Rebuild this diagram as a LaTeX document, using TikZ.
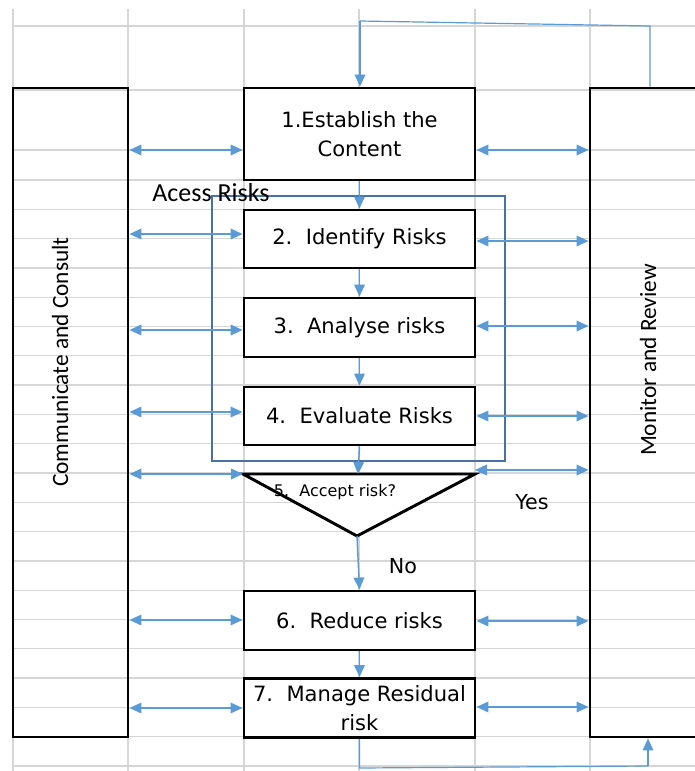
\documentclass[tikz,border=0pt]{standalone}
\usepackage{fontspec}
\setmainfont{DejaVu Sans}
\newfontfamily\calfont{Carlito}
\usetikzlibrary{arrows.meta}
\definecolor{linkblue}{RGB}{91,155,213}
\definecolor{frameblue}{RGB}{72,114,164}
\definecolor{gridgray}{RGB}{214,214,214}
\tikzset{
  gridline/.style={gridgray, line width=1pt},
  stepbox/.style={draw=black, fill=white, line width=2.2pt, minimum width=173.25pt,
    inner sep=0pt, align=center, font=\fontsize{15.8}{22}\selectfont},
  sidebox/.style={draw=black, line width=2.2pt, minimum width=86.25pt,
    minimum height=486.75pt, inner sep=0pt},
  sidetext/.style={rotate=90, font=\calfont\fontsize{17.5}{20}\selectfont},
  flow/.style={linkblue, line width=1.1pt, -{Triangle[length=9pt,width=8pt]}},
  link/.style={linkblue, line width=1.1pt,
    {Triangle[length=9pt,width=8pt]}-{Triangle[length=9pt,width=8pt]}},
  loopline/.style={linkblue, line width=0.9pt},
}
\begin{document}
\begin{tikzpicture}[x=0.75pt,y=-0.75pt]
\useasboundingbox[fill=white] (0,0) rectangle (695,771);
\clip (0,0) rectangle (695,771);
% spreadsheet grid
\foreach \gx in {13,128,244,359,475,590}
  \draw[gridline] (\gx,9) -- (\gx,771);
\foreach \gy in {26,90,150}
  \draw[gridline] (13,\gy) -- (695,\gy);
\foreach \k in {0,...,20}
  \draw[gridline] (13,{180+29.3*\k}) -- (695,{180+29.3*\k});
% side columns
\node[sidebox] (comm) at (70.5,412.5) {};
\node[sidebox] (mon) at (647.5,412.5) {};
\node[sidetext] (commtext) at (60,362) {Communicate and Consult};
\node[sidetext] (montext) at (648,360) {Monitor and Review};
% assess frame
\draw[frameblue, line width=1.8pt] (212,196) rectangle (505,461);
\node[font=\calfont\fontsize{19.5}{20}\selectfont] (assess) at (211,193) {Acess Risks};
% steps
\node[stepbox, minimum height=69pt] (est) at (359.5,134) {1.Establish the\\Content};
\node[stepbox, minimum height=43.5pt] (ident) at (359.5,239) {2.\ \ Identify Risks};
\node[stepbox, minimum height=44.25pt] (analyse) at (359.5,327.5) {3.\ \ Analyse risks};
\node[stepbox, minimum height=43.5pt] (evaluate) at (359.5,416) {4.\ \ Evaluate Risks};
\node[stepbox, minimum height=44.25pt] (reduce) at (359.5,620.5) {6.\ \ Reduce risks};
\node[stepbox, minimum height=44.25pt] (manage) at (359.5,708) {7.\ \ Manage Residual\\risk};
% decision
\coordinate (accL) at (243,474);
\coordinate (accR) at (475,474);
\coordinate (accT) at (358,474);
\coordinate (accB) at (357,536);
\draw[black, fill=white, line width=2.2pt, line join=miter] (accL) -- (accR) -- (accB) -- cycle;
\node[font=\fontsize{12}{13}\selectfont] (acctext) at (335,492) {5.\ \ Accept risk?};
\node[font=\fontsize{15.5}{17}\selectfont] (yes) at (532,502) {Yes};
\node[font=\fontsize{15.5}{17}\selectfont] (no) at (403,566) {No};
% flow
\draw[flow] (est.south) -- (ident.north);
\draw[flow] (ident.south) -- (analyse.north);
\draw[flow] (analyse.south) -- (evaluate.north);
\draw[flow] (evaluate.south) -- (accT);
\draw[flow] (accB) -- (reduce.north);
\draw[flow] (reduce.south) -- (manage.north);
% links to side columns
\foreach \b/\yl/\yr in {est/150/150,ident/234/241,analyse/330/326,evaluate/412/416,reduce/620/621,manage/708/707} {
  \draw[link] (comm.east |- 0,\yl) -- (\b.west |- 0,\yl);
  \draw[link] (\b.east |- 0,\yr) -- (mon.west |- 0,\yr);
}
\draw[link] (comm.east |- accL) -- (accL);
\draw[link] (accR |- 0,470) -- (mon.west |- 0,470);
% feedback loops
\coordinate (topR) at (650,26);
\coordinate (topL) at (360,21);
\draw[loopline] (mon.north -| topR) -- (topR) -- (topL)
  edge[flow, line width=0.9pt] (est.north -| topL);
\coordinate (botL) at (359.5,768);
\coordinate (botR) at (648,766);
\draw[loopline] (manage.south) -- (botL) -- (botR)
  edge[flow, line width=0.9pt] (mon.south -| botR);
\end{tikzpicture}
\end{document}
